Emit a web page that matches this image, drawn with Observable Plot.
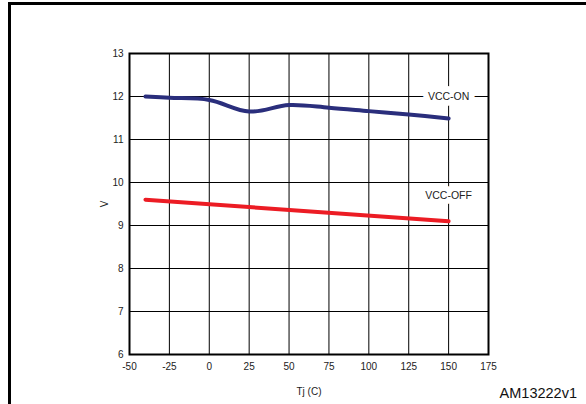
<!DOCTYPE html>
<html><head><meta charset="utf-8">
<script src="https://cdn.jsdelivr.net/npm/d3@7"></script>
<script src="https://cdn.jsdelivr.net/npm/@observablehq/plot@0.6"></script>
<style>
body{margin:0;background:#fff;font-family:"Liberation Sans",Arial,sans-serif;}
#wrap{position:relative;width:586px;height:404px;overflow:hidden;}
#border{position:absolute;left:8px;top:2px;width:600px;height:420px;border-top:3px solid #000;border-left:3px solid #000;pointer-events:none;}
#code{position:absolute;right:9px;top:386px;font-size:14.5px;line-height:1;color:#111;}
</style></head>
<body><div id="wrap"><div id="border"></div><div id="code">AM13222v1</div></div>
<script>
const tj = [-40, -25, 0, 25, 50, 75, 100, 125, 150];
const vccOn = [12.0, 11.97, 11.92, 11.65, 11.8, 11.74, 11.66, 11.58, 11.49];
const tjOff = [-40, 150];
const vccOff = [9.6, 9.1];
const xTicks = [-50, -25, 0, 25, 50, 75, 100, 125, 150, 175];
const yTicks = [6, 7, 8, 9, 10, 11, 12, 13];
const labels = [{t: 150, v: 12, s: "VCC-ON"}, {t: 150, v: 9.7, s: "VCC-OFF"}];

const onData = tj.map((t, i) => ({t, v: vccOn[i]}));
const offData = tjOff.map((t, i) => ({t, v: vccOff[i]}));

const chart = Plot.plot({
  width: 586, height: 404,
  marginLeft: 129, marginRight: 98, marginTop: 53, marginBottom: 50,
  style: {fontFamily: '"Liberation Sans", Arial, sans-serif', fontSize: "10px", color: "#222", background: "transparent"},
  x: {domain: [-50, 175], ticks: xTicks},
  y: {domain: [6, 13], ticks: yTicks},
  marks: [
    Plot.gridX(xTicks, {stroke: "#000", strokeOpacity: 1, strokeWidth: 1}),
    Plot.gridY(yTicks, {stroke: "#000", strokeOpacity: 1, strokeWidth: 1}),
    Plot.frame({stroke: "#000", strokeWidth: 2}),
    Plot.axisX(xTicks, {tickSize: 0, tickPadding: 8, fontSize: 10, tickFormat: d => String(d), label: "Tj (C)", labelAnchor: "center", labelArrow: "none", labelOffset: 40}),
    Plot.axisY(yTicks, {tickSize: 0, tickPadding: 6, fontSize: 10, tickFormat: d => String(d), label: "V", labelAnchor: "center", labelArrow: "none", labelOffset: 29}),
    Plot.text(labels, {x: "t", y: "v", text: "s", fontSize: 10.5, fill: "none", stroke: "#fff", strokeWidth: 12, strokeLinejoin: "miter"}),
    Plot.text(labels, {x: "t", y: "v", text: "s", fontSize: 10.5, fontWeight: "normal", fill: "#222"}),
    Plot.line(onData, {x: "t", y: "v", stroke: "#2a2e7c", strokeWidth: 4, curve: "catmull-rom"}),
    Plot.line(offData, {x: "t", y: "v", stroke: "#ec1c24", strokeWidth: 4})
  ]
});
document.getElementById("wrap").prepend(chart);
</script></body></html>
